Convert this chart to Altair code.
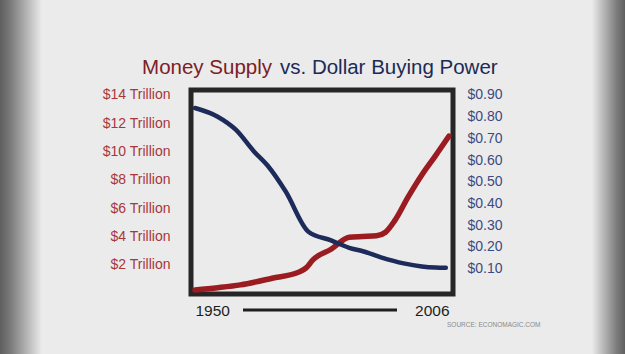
import altair as alt
import pandas as pd

# ---- data ----
money_years = [1950, 1955, 1960, 1967, 1973, 1974.5, 1976, 1980, 1984, 1987, 1990, 1992, 1994, 1997, 2000, 2003, 2006]
money_supply = [0.22, 0.38, 0.58, 1.05, 1.5, 1.78, 2.35, 3.1, 3.95, 4.0, 4.05, 4.3, 5.1, 6.8, 8.35, 9.7, 11.1]

power_years = [1950, 1955, 1959, 1963, 1966, 1970, 1975, 1980, 1984, 1987, 1991, 1996, 2000, 2003, 2005.3]
buying_power = [0.84, 0.80, 0.74, 0.64, 0.575, 0.455, 0.27, 0.23, 0.196, 0.18, 0.152, 0.124, 0.11, 0.105, 0.104]

left_ticks = [2, 4, 6, 8, 10, 12, 14]
right_ticks = [0.1, 0.2, 0.3, 0.4, 0.5, 0.6, 0.7, 0.8, 0.9]
year_ticks = [1950, 2006]

title_left = "Money Supply"
title_right = "vs. Dollar Buying Power"
source_text = "SOURCE: ECONOMAGIC.COM"

money_df = pd.DataFrame({"year": money_years, "value": money_supply})
power_df = pd.DataFrame({"year": power_years, "value": buying_power})

FONT = "Liberation Sans"
W, H = 262, 204
PL, PT = 191, 90

xscale = alt.Scale(domain=[1949.12, 2006.88], nice=False, zero=False)

x_enc = alt.X(
    "year:Q", scale=xscale,
    axis=alt.Axis(values=year_ticks, title=None, grid=False, domain=False, ticks=False,
                  labelFlush=8, labelFontSize=15.5, labelFont=FONT, labelColor="#1e1e1e",
                  labelPadding=9, format="d"),
)

money = alt.Chart(money_df).mark_line(
    color="#9a1b20", strokeWidth=5.5, strokeCap="round", strokeJoin="round", interpolate="monotone"
).encode(
    x=x_enc,
    y=alt.Y("value:Q", scale=alt.Scale(domain=[-0.064, 14.353], nice=False, zero=False),
            axis=alt.Axis(orient="left", values=left_ticks, title=None, grid=False, domain=False,
                          ticks=False, labelFontSize=14, labelFont=FONT, labelColor="#a8373b",
                          labelPadding=21, labelExpr="'$' + datum.value + ' Trillion'")),
)

power = alt.Chart(power_df).mark_line(
    color="#1c2b5a", strokeWidth=4.5, strokeCap="round", strokeJoin="round", interpolate="monotone"
).encode(
    x=alt.X("year:Q", scale=xscale),
    y=alt.Y("value:Q", scale=alt.Scale(domain=[-0.017, 0.923], nice=False, zero=False),
            axis=alt.Axis(orient="right", values=right_ticks, title=None, grid=False, domain=False,
                          ticks=False, labelFontSize=14, labelFont=FONT, labelColor="#3b4a82",
                          labelPadding=14, format="$.2f")),
)

one = alt.Data(values=[{}])

grad_left = {"gradient": "linear", "x1": 0, "x2": 1, "y1": 0, "y2": 0,
             "stops": [{"offset": 0, "color": "#5e5e5e"}, {"offset": 0.25, "color": "#7a7a7a"},
                       {"offset": 1, "color": "#ebebeb"}]}
grad_right = {"gradient": "linear", "x1": 0, "x2": 1, "y1": 0, "y2": 0,
              "stops": [{"offset": 0, "color": "#ebebeb"}, {"offset": 0.75, "color": "#7c7c7c"},
                        {"offset": 1, "color": "#606060"}]}

vig_left = alt.Chart(one).mark_rect(fill=grad_left).encode(
    x=alt.value(-PL), x2=alt.value(-PL + 42), y=alt.value(-PT), y2=alt.value(354 - PT))
vig_right = alt.Chart(one).mark_rect(fill=grad_right).encode(
    x=alt.value(592 - PL), x2=alt.value(625 - PL), y=alt.value(-PT), y2=alt.value(354 - PT))

t1 = alt.Chart(one).mark_text(text=title_left, font=FONT, fontSize=20.5, color="#7b2025",
                              align="right", baseline="alphabetic").encode(
    x=alt.value(272 - PL), y=alt.value(74 - PT))
t2 = alt.Chart(one).mark_text(text=title_right, font=FONT, fontSize=20.5, color="#1c2a55",
                              align="left", baseline="alphabetic").encode(
    x=alt.value(280 - PL), y=alt.value(74 - PT))

bar = alt.Chart(one).mark_rule(color="#1e1e1e", strokeWidth=3).encode(
    x=alt.value(243 - PL), x2=alt.value(397 - PL), y=alt.value(310 - PT))

src = alt.Chart(one).mark_text(text=source_text, font=FONT, fontSize=6.5, color="#8a8a8a",
                               align="left", baseline="middle").encode(
    x=alt.value(447 - PL), y=alt.value(325 - PT))

chart = alt.layer(
    vig_left, vig_right, money, power, t1, t2, bar, src
).resolve_scale(y="independent").properties(
    width=W, height=H,
    autosize=alt.AutoSizeParams(type="none"),
    padding={"left": PL, "top": PT, "right": 625 - PL - W, "bottom": 354 - PT - H},
    background="#ebebeb",
).configure_view(stroke="#262626", strokeWidth=5)

chart.save("out.html", embed_options={"renderer": "svg", "actions": False})
